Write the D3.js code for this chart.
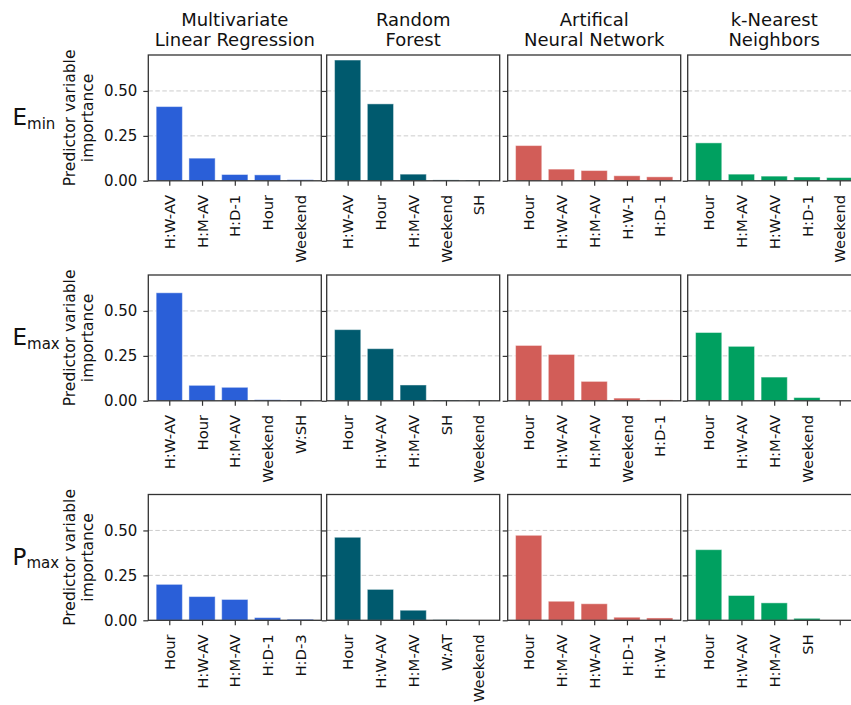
<!DOCTYPE html>
<html>
<head>
<meta charset="utf-8">
<script src="https://cdn.jsdelivr.net/npm/d3@7"></script>
<style>
  html, body { margin: 0; padding: 0; background: #ffffff; }
  svg { display: block; font-family: "DejaVu Sans", sans-serif; }
</style>
</head>
<body>
<svg id="chart" width="851" height="705"></svg>
<script>
// Model columns (title lines) and bar colours
const modelTitles = [
  ["Multivariate", "Linear Regression"],
  ["Random", "Forest"],
  ["Artifical", "Neural Network"],
  ["k-Nearest", "Neighbors"]
];
const modelColors = ["#2a5fd8", "#005a6e", "#d25d58", "#00a060"];

// Target rows: main symbol and subscript
const targetSymbols = ["E", "E", "P"];
const targetSubs = ["min", "max", "max"];

// Predictor names per model (one array per target row)
const eminLabels = [
  ["H:W-AV", "H:M-AV", "H:D-1", "Hour", "Weekend"],
  ["H:W-AV", "Hour", "H:M-AV", "Weekend", "SH"],
  ["Hour", "H:W-AV", "H:M-AV", "H:W-1", "H:D-1"],
  ["Hour", "H:M-AV", "H:W-AV", "H:D-1", "Weekend"]
];
const emaxLabels = [
  ["H:W-AV", "Hour", "H:M-AV", "Weekend", "W:SH"],
  ["Hour", "H:W-AV", "H:M-AV", "SH", "Weekend"],
  ["Hour", "H:W-AV", "H:M-AV", "Weekend", "H:D-1"],
  ["Hour", "H:W-AV", "H:M-AV", "Weekend", ""]
];
const pmaxLabels = [
  ["Hour", "H:W-AV", "H:M-AV", "H:D-1", "H:D-3"],
  ["Hour", "H:W-AV", "H:M-AV", "W:AT", "Weekend"],
  ["Hour", "H:M-AV", "H:W-AV", "H:D-1", "H:W-1"],
  ["Hour", "H:W-AV", "H:M-AV", "SH", ""]
];

// Predictor variable importance per model
const eminValues = [
  [0.413, 0.126, 0.035, 0.033, 0.006],
  [0.672, 0.428, 0.037, 0.005, 0.004],
  [0.196, 0.065, 0.057, 0.028, 0.022],
  [0.211, 0.037, 0.026, 0.021, 0.018]
];
const emaxValues = [
  [0.601, 0.086, 0.075, 0.006, 0.004],
  [0.396, 0.290, 0.088, 0.004, 0.002],
  [0.308, 0.258, 0.108, 0.015, 0.005],
  [0.380, 0.303, 0.132, 0.018, 0.000]
];
const pmaxValues = [
  [0.200, 0.132, 0.116, 0.015, 0.006],
  [0.462, 0.172, 0.056, 0.003, 0.001],
  [0.473, 0.106, 0.092, 0.017, 0.013],
  [0.393, 0.138, 0.097, 0.011, 0.000]
];

const yTickValues = [0, 0.25, 0.5];
const yTickLabels = ["0.00", "0.25", "0.50"];
const yLabelLines = ["Predictor variable", "importance"];

const rowLabels = [eminLabels, emaxLabels, pmaxLabels];
const rowValues = [eminValues, emaxValues, pmaxValues];

// Panel layout
const colLeft = [148.3, 326.7, 507.7, 687.7];
const panelW = 173;
const rowTop = [55, 275, 494.5];
const panelH = 125.8;
const tickLen = 5;
const FONT = "DejaVu Sans, sans-serif";

const svg = d3.select("#chart");

rowValues.forEach((valuesByModel, r) => {
  const top = rowTop[r];
  const bottom = top + panelH;
  const y = d3.scaleLinear().domain([0, 0.7]).range([bottom, top]);

  valuesByModel.forEach((vals, c) => {
    const left = colLeft[c];
    const labels = rowLabels[r][c];
    const x = d3.scaleLinear().domain([-0.64, 4.64]).range([left, left + panelW]);
    const g = svg.append("g");

    // dashed horizontal grid
    g.selectAll("line.grid")
      .data(yTickValues.filter(v => v > 0))
      .join("line")
      .attr("class", "grid")
      .attr("x1", left).attr("x2", left + panelW)
      .attr("y1", d => y(d)).attr("y2", d => y(d))
      .attr("stroke", "#cccccc")
      .attr("stroke-width", 1)
      .attr("stroke-dasharray", "4.5,2.5");

    // bars
    g.selectAll("rect.bar")
      .data(vals)
      .join("rect")
      .attr("class", "bar")
      .attr("x", (d, i) => x(i - 0.4))
      .attr("width", (d, i) => x(i + 0.4) - x(i - 0.4))
      .attr("y", d => y(d))
      .attr("height", d => y(0) - y(d))
      .attr("fill", modelColors[c])
      .attr("stroke", "#ffffff")
      .attr("stroke-opacity", 0.45)
      .attr("stroke-width", 1);

    // left axis (ticks on every panel, labels on the first column)
    const yAxis = d3.axisLeft(y)
      .tickValues(yTickValues)
      .tickSize(tickLen)
      .tickPadding(6)
      .tickFormat((d, i) => c === 0 ? yTickLabels[i] : "");
    const ya = g.append("g")
      .attr("transform", `translate(${left},0)`)
      .call(yAxis)
      .attr("font-family", FONT)
      .attr("font-size", 15);
    ya.select(".domain").remove();
    ya.selectAll(".tick line").attr("stroke", "#333333").attr("stroke-width", 1.2);
    ya.selectAll(".tick text").attr("fill", "#111111");

    // bottom axis with rotated predictor names
    const xAxis = d3.axisBottom(x)
      .tickValues(d3.range(vals.length))
      .tickSize(tickLen)
      .tickFormat(i => labels[i]);
    const xa = g.append("g")
      .attr("transform", `translate(0,${bottom})`)
      .call(xAxis)
      .attr("font-family", FONT)
      .attr("font-size", 14.8);
    xa.select(".domain").remove();
    xa.selectAll(".tick line").attr("stroke", "#333333").attr("stroke-width", 1.2);
    xa.selectAll(".tick text")
      .attr("fill", "#111111")
      .attr("transform", "translate(0,14) rotate(-90)")
      .attr("x", 0).attr("y", 0).attr("dy", "0.35em")
      .attr("text-anchor", "end");

    // frame
    g.append("rect")
      .attr("x", left).attr("y", top)
      .attr("width", panelW).attr("height", panelH)
      .attr("fill", "none")
      .attr("stroke", "#333333")
      .attr("stroke-width", 1.3);
  });

  // y axis title
  const yc = (top + bottom) / 2;
  [75, 92.5].forEach((bx, k) => {
    svg.append("text")
      .attr("transform", `translate(${bx},${yc}) rotate(-90)`)
      .attr("text-anchor", "middle")
      .attr("fill", "#111111")
      .style("font-size", "15.5px")
      .text(yLabelLines[k]);
  });

  // row label with subscript
  const rl = svg.append("text")
    .attr("x", 12.5)
    .attr("y", yc + 7.5)
    .attr("fill", "#111111")
    .style("font-size", "23px");
  rl.append("tspan").text(targetSymbols[r]);
  rl.append("tspan").attr("dy", 3.5).style("font-size", "15px").text(targetSubs[r]);
});

// column titles
modelTitles.forEach((lines, c) => {
  const cx = colLeft[c] + panelW / 2;
  lines.forEach((t, k) => {
    svg.append("text")
      .attr("x", cx)
      .attr("y", 26 + k * 19.5)
      .attr("text-anchor", "middle")
      .attr("fill", "#111111")
      .style("font-size", "18px")
      .text(t);
  });
});
</script>
</body>
</html>
